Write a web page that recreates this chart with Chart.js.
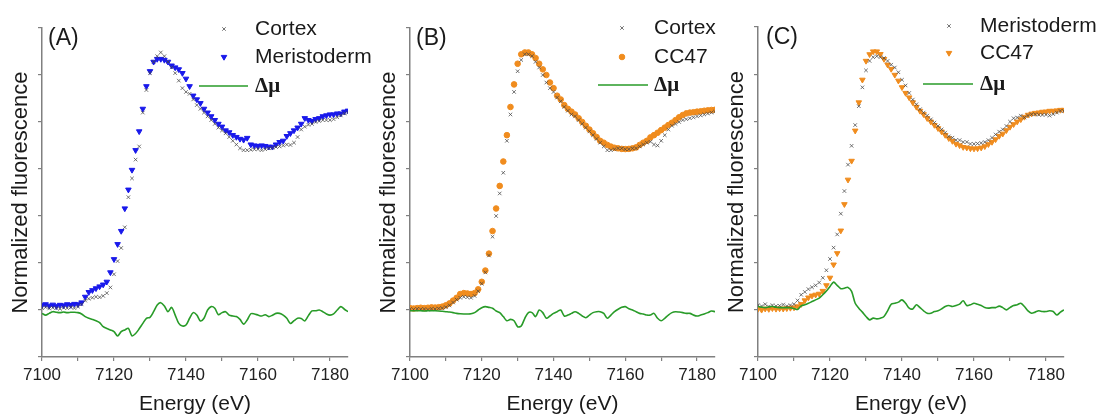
<!DOCTYPE html>
<html>
<head>
<meta charset="utf-8">
<script src="https://cdn.jsdelivr.net/npm/chart.js@4.4.1/dist/chart.umd.min.js"></script>
<style>
  body { margin: 0; background: #fff; }
  #wrap { position: relative; width: 1105px; height: 419px; }
  #wrap canvas { position: absolute; left: 0; top: 0; }
</style>
</head>
<body>
<div id="wrap">
  <canvas id="chartA" width="1105" height="419"></canvas>
  <canvas id="chartB" width="1105" height="419"></canvas>
  <canvas id="chartC" width="1105" height="419"></canvas>
</div>
<script>
// Energias (eV), 1 eV por punto
const energy = [
  7100, 7101, 7102, 7103, 7104, 7105, 7106, 7107, 7108, 7109,
  7110, 7111, 7112, 7113, 7114, 7115, 7116, 7117, 7118, 7119,
  7120, 7121, 7122, 7123, 7124, 7125, 7126, 7127, 7128, 7129,
  7130, 7131, 7132, 7133, 7134, 7135, 7136, 7137, 7138, 7139,
  7140, 7141, 7142, 7143, 7144, 7145, 7146, 7147, 7148, 7149,
  7150, 7151, 7152, 7153, 7154, 7155, 7156, 7157, 7158, 7159,
  7160, 7161, 7162, 7163, 7164, 7165, 7166, 7167, 7168, 7169,
  7170, 7171, 7172, 7173, 7174, 7175, 7176, 7177, 7178, 7179,
  7180, 7181, 7182, 7183, 7184, 7185
];

// marcas del eje x (las de 20 en 20 llevan etiqueta)
const xTickMarks = [7100, 7110, 7120, 7130, 7140, 7150, 7160, 7170, 7180];
const xTicks = [7100, 7120, 7140, 7160, 7180];

// Panel (A)
const cortexA = [
  0.010, 0.015, 0.008, 0.012, 0.010, 0.006, 0.012, 0.010, 0.015, 0.010,
  0.018, 0.030, 0.050, 0.060, 0.065, 0.070, 0.068, 0.075, 0.090, 0.120,
  0.190, 0.260, 0.330, 0.440, 0.600, 0.700, 0.800, 0.870, 1.050, 1.170,
  1.260, 1.320, 1.350, 1.370, 1.350, 1.320, 1.290, 1.260, 1.220, 1.180,
  1.160, 1.150, 1.120, 1.090, 1.070, 1.050, 1.030, 1.010, 0.990, 0.970,
  0.955, 0.940, 0.920, 0.900, 0.880, 0.860, 0.850, 0.850, 0.852, 0.855,
  0.855, 0.850, 0.855, 0.860, 0.862, 0.867, 0.870, 0.875, 0.880, 0.878,
  0.890, 0.920, 0.960, 0.975, 0.985, 0.990, 1.000, 1.005, 1.010, 1.010,
  1.010, 1.015, 1.025, 1.035, 1.045, 1.050
];
const meristodermA = [
  0.025, 0.030, 0.022, 0.028, 0.020, 0.027, 0.024, 0.030, 0.026, 0.032,
  0.030, 0.040, 0.070, 0.095, 0.105, 0.115, 0.125, 0.135, 0.150, 0.200,
  0.270, 0.350, 0.420, 0.540, 0.640, 0.745, 0.850, 0.950, 1.070, 1.190,
  1.270, 1.320, 1.335, 1.335, 1.330, 1.320, 1.300, 1.290, 1.280, 1.260,
  1.230, 1.190, 1.140, 1.120, 1.100, 1.070, 1.050, 1.030, 1.010, 0.990,
  0.975, 0.955, 0.945, 0.930, 0.920, 0.910, 0.905, 0.915, 0.880, 0.875,
  0.872, 0.875, 0.872, 0.868, 0.868, 0.880, 0.893, 0.900, 0.925, 0.940,
  0.955, 0.970, 0.990, 1.020, 1.010, 1.005, 1.015, 1.020, 1.030, 1.035,
  1.040, 1.040, 1.045, 1.045, 1.055, 1.060
];
const deltaA = [
  -0.018, -0.027, -0.018, -0.009, -0.012, -0.014, -0.011, -0.014, -0.012, -0.012,
  -0.014, -0.021, -0.035, -0.044, -0.050, -0.057, -0.067, -0.089, -0.098, -0.106,
  -0.115, -0.138, -0.115, -0.106, -0.098, -0.138, -0.125, -0.100, -0.071, -0.044,
  -0.039, -0.009, 0.027, 0.039, 0.021, -0.009, 0.014, -0.027, -0.071, -0.085,
  -0.080, -0.044, -0.014, -0.027, -0.058, -0.044, 0.000, 0.018, 0.009, -0.025,
  -0.014, -0.009, -0.027, -0.032, -0.035, -0.050, -0.075, -0.053, -0.020, -0.021,
  -0.027, -0.032, -0.025, -0.035, -0.028, -0.018, -0.018, -0.027, -0.044, -0.072,
  -0.057, -0.044, -0.045, -0.058, -0.030, -0.005, -0.004, 0.000, -0.009, -0.021,
  -0.027, -0.021, 0.000, 0.018, 0.004, -0.009
];

// Panel (B)
const cortexB = [
  0.005, 0.003, 0.006, 0.004, 0.005, 0.002, 0.006, 0.005, 0.008, 0.010,
  0.015, 0.025, 0.040, 0.055, 0.065, 0.070, 0.068, 0.065, 0.075, 0.100,
  0.140, 0.200, 0.290, 0.390, 0.500, 0.620, 0.730, 0.900, 1.040, 1.160,
  1.270, 1.330, 1.360, 1.360, 1.350, 1.320, 1.290, 1.250, 1.210, 1.180,
  1.160, 1.130, 1.110, 1.080, 1.060, 1.040, 1.030, 1.010, 0.990, 0.970,
  0.950, 0.930, 0.910, 0.890, 0.870, 0.850, 0.850, 0.855, 0.860, 0.860,
  0.855, 0.855, 0.860, 0.860, 0.870, 0.880, 0.890, 0.895, 0.880, 0.875,
  0.900, 0.930, 0.960, 0.980, 0.990, 1.000, 1.010, 1.015, 1.020, 1.025,
  1.030, 1.035, 1.040, 1.045, 1.050, 1.055
];
const cc47B = [
  0.010, 0.008, 0.010, 0.012, 0.010, 0.012, 0.014, 0.013, 0.015, 0.018,
  0.025, 0.035, 0.050, 0.065, 0.085, 0.090, 0.088, 0.085, 0.090, 0.110,
  0.150, 0.210, 0.300, 0.420, 0.540, 0.660, 0.790, 0.930, 1.080, 1.200,
  1.310, 1.360, 1.370, 1.370, 1.360, 1.340, 1.310, 1.280, 1.250, 1.210,
  1.180, 1.140, 1.120, 1.090, 1.070, 1.055, 1.040, 1.020, 1.000, 0.980,
  0.960, 0.940, 0.920, 0.900, 0.890, 0.878, 0.869, 0.863, 0.860, 0.857,
  0.856, 0.857, 0.860, 0.865, 0.878, 0.890, 0.900, 0.918, 0.930, 0.943,
  0.957, 0.970, 0.984, 0.996, 1.010, 1.025, 1.037, 1.046, 1.050, 1.052,
  1.055, 1.057, 1.060, 1.062, 1.064, 1.065
];
const deltaB = [
  -0.004, -0.004, -0.004, -0.004, -0.005, -0.004, -0.004, -0.004, -0.005, -0.007,
  -0.009, -0.011, -0.014, -0.018, -0.020, -0.021, -0.021, -0.020, -0.014, 0.000,
  0.012, 0.018, 0.014, 0.009, -0.005, -0.014, -0.035, -0.057, -0.050, -0.057,
  -0.089, -0.085, -0.044, -0.014, -0.014, -0.035, 0.000, -0.014, -0.044, -0.032,
  -0.018, -0.009, 0.000, -0.032, -0.027, -0.018, -0.009, -0.018, -0.032, -0.041,
  -0.027, -0.014, -0.009, -0.009, -0.018, -0.044, -0.027, -0.009, 0.004, 0.014,
  0.018, 0.007, 0.000, -0.009, -0.018, -0.021, -0.027, -0.027, -0.018, -0.044,
  -0.057, -0.044, -0.027, -0.014, -0.009, -0.011, -0.014, -0.018, -0.018, -0.027,
  -0.032, -0.027, -0.021, -0.014, -0.005, -0.009
];

// Panel (C)
const meristodermC = [
  0.025, 0.020, 0.030, 0.018, 0.025, 0.020, 0.022, 0.028, 0.020, 0.025,
  0.030, 0.050, 0.080, 0.095, 0.110, 0.120, 0.130, 0.145, 0.170, 0.210,
  0.270, 0.330, 0.400, 0.510, 0.630, 0.770, 0.870, 0.980, 1.080, 1.180,
  1.270, 1.320, 1.340, 1.345, 1.340, 1.335, 1.320, 1.300, 1.285, 1.260,
  1.220, 1.190, 1.150, 1.115, 1.090, 1.064, 1.046, 1.030, 1.010, 0.993,
  0.975, 0.957, 0.940, 0.920, 0.913, 0.900, 0.900, 0.890, 0.890, 0.880,
  0.880, 0.882, 0.885, 0.890, 0.900, 0.913, 0.930, 0.945, 0.957, 0.975,
  0.998, 1.016, 1.020, 1.030, 1.020, 1.030, 1.037, 1.037, 1.035, 1.034,
  1.035, 1.030, 1.038, 1.046, 1.055, 1.055
];
const cc47C = [
  0.005, 0.000, 0.006, 0.004, 0.008, 0.005, 0.007, 0.006, 0.008, 0.010,
  0.012, 0.018, 0.030, 0.050, 0.065, 0.075, 0.080, 0.085, 0.100, 0.130,
  0.170, 0.240, 0.300, 0.420, 0.560, 0.690, 0.790, 0.950, 1.100, 1.220,
  1.320, 1.355, 1.370, 1.370, 1.356, 1.330, 1.300, 1.277, 1.246, 1.215,
  1.180, 1.150, 1.126, 1.100, 1.076, 1.055, 1.037, 1.016, 0.998, 0.980,
  0.963, 0.945, 0.927, 0.910, 0.895, 0.880, 0.872, 0.863, 0.860, 0.856,
  0.855, 0.856, 0.860, 0.867, 0.878, 0.890, 0.904, 0.922, 0.934, 0.952,
  0.970, 0.984, 0.998, 1.010, 1.023, 1.034, 1.040, 1.044, 1.046, 1.050,
  1.051, 1.055, 1.055, 1.057, 1.060, 1.060
];
const deltaC = [
  0.018, 0.014, 0.012, 0.016, 0.018, 0.014, 0.012, 0.012, 0.012, 0.011,
  0.007, 0.002, 0.021, 0.027, 0.035, 0.044, 0.053, 0.062, 0.080, 0.100,
  0.124, 0.147, 0.130, 0.112, 0.115, 0.119, 0.098, 0.035, 0.009, -0.012,
  -0.035, -0.053, -0.044, -0.048, -0.044, -0.035, -0.005, 0.030, 0.035, 0.041,
  0.053, 0.035, 0.009, 0.005, 0.027, 0.012, -0.005, -0.018, -0.018, -0.009,
  -0.005, 0.005, 0.018, 0.023, 0.018, 0.023, 0.030, 0.048, 0.023, 0.027,
  0.035, 0.030, 0.023, 0.012, 0.009, 0.012, 0.012, 0.020, 0.012, 0.000,
  0.012, 0.023, 0.027, 0.035, 0.018, -0.005, -0.018, -0.012, -0.005, -0.009,
  -0.009, -0.005, -0.009, -0.027, -0.012, 0.000
];

const SANS = '"Liberation Sans", Arial, sans-serif';
const GRAY = 'rgba(70,70,70,0.75)';
const BLUE = 'rgb(25,25,235)';
const ORANGE = 'rgb(240,140,30)';
const GREEN = 'rgb(40,155,40)';
const AXIS = '#808080';

function toPoints(ys) {
  return energy.map((x, i) => ({ x: x, y: ys[i] }));
}

function grayDataset(label, ys) {
  return {
    label: label, data: toPoints(ys), order: 1,
    pointStyle: 'crossRot', pointRadius: 2.5, borderWidth: 1,
    borderColor: GRAY, backgroundColor: GRAY
  };
}

function colorDataset(label, ys, color, style, rotation, radius) {
  return {
    label: label, data: toPoints(ys), order: 2,
    pointStyle: style, pointRotation: rotation, pointRadius: radius, borderWidth: 1,
    borderColor: color, backgroundColor: color
  };
}

function deltaDataset(ys) {
  return {
    label: 'Δμ', data: toPoints(ys), order: 0,
    showLine: true, pointRadius: 0, borderColor: GREEN, borderWidth: 1.6,
    tension: 0.3
  };
}

// Leyenda y etiqueta del panel dibujadas a mano
function panelDecor(cfg) {
  return {
    id: 'panelDecor',
    afterDraw(chart) {
      const ctx = chart.ctx;
      ctx.save();
      ctx.textBaseline = 'middle';
      ctx.textAlign = 'left';
      ctx.fillStyle = '#1a1a1a';
      ctx.font = '23px ' + SANS;
      ctx.fillText(cfg.tag, cfg.tagX, cfg.tagY);

      chart.data.datasets.forEach((ds, i) => {
        const y = cfg.rows[i];
        if (ds.showLine) {
          ctx.strokeStyle = ds.borderColor;
          ctx.lineWidth = ds.borderWidth;
          ctx.beginPath();
          ctx.moveTo(cfg.lineX[0], y);
          ctx.lineTo(cfg.lineX[1], y);
          ctx.stroke();
          ctx.fillStyle = '#1a1a1a';
          ctx.font = 'bold 21px "Liberation Serif", "DejaVu Serif", serif';
          ctx.fillText(ds.label, cfg.textX, y + 1);
        } else {
          ctx.fillStyle = ds.backgroundColor;
          ctx.strokeStyle = ds.borderColor;
          ctx.lineWidth = ds.borderWidth;
          Chart.helpers.drawPoint(ctx, {
            pointStyle: ds.pointStyle, radius: ds.pointRadius,
            rotation: ds.pointRotation || 0, borderWidth: ds.borderWidth
          }, cfg.markX, y);
          ctx.fillStyle = '#1a1a1a';
          ctx.font = '21px ' + SANS;
          ctx.fillText(ds.label, cfg.textX, y);
        }
      });
      ctx.restore();
    }
  };
}

function makePanel(canvasId, datasets, pad, decor) {
  const ctx = document.getElementById(canvasId).getContext('2d');
  return new Chart(ctx, {
    type: 'scatter',
    data: { datasets: datasets },
    options: {
      responsive: false,
      animation: false,
      devicePixelRatio: 1,
      layout: { padding: pad },
      plugins: { legend: { display: false }, tooltip: { enabled: false } },
      scales: {
        x: {
          type: 'linear', min: 7100, max: 7185,
          afterFit: s => { s.height = 62; },
          afterBuildTicks: s => { s.ticks = xTickMarks.map(v => ({ value: v })); },
          border: { color: AXIS, width: 1.5 },
          grid: { drawOnChartArea: false, tickLength: 4, color: AXIS, lineWidth: 1.2 },
          ticks: {
            autoSkip: false, maxRotation: 0, padding: 4,
            color: '#222', font: { family: SANS, size: 17 },
            callback: v => xTicks.includes(v) ? String(v) : ''
          },
          title: {
            display: true, text: 'Energy (eV)', color: '#1a1a1a',
            font: { family: SANS, size: 21, lineHeight: 1.2 },
            padding: { top: 0, bottom: 2 }
          }
        },
        y: {
          type: 'linear', min: -0.25, max: 1.5,
          afterFit: s => { s.width = 42; },
          border: { color: AXIS, width: 1.5 },
          grid: { drawOnChartArea: false, tickLength: 4, color: AXIS, lineWidth: 1.2 },
          ticks: { stepSize: 0.25, display: false },
          title: {
            display: true, text: 'Normalized fluorescence', color: '#1a1a1a',
            font: { family: SANS, size: 22, lineHeight: 1.2 },
            padding: { top: 8, bottom: 0 }
          }
        }
      }
    },
    plugins: [panelDecor(decor)]
  });
}

makePanel('chartA', [
  grayDataset('Cortex', cortexA),
  colorDataset('Meristoderm', meristodermA, BLUE, 'triangle', 180, 3.2),
  deltaDataset(deltaA)
], { left: 0, right: 757, top: 28, bottom: 0 }, {
  tag: '(A)', tagX: 48, tagY: 39,
  rows: [29, 57, 86], markX: 224, textX: 255, lineX: [199, 248]
});

makePanel('chartB', [
  grayDataset('Cortex', cortexB),
  colorDataset('CC47', cc47B, ORANGE, 'circle', 0, 2.8),
  deltaDataset(deltaB)
], { left: 368, right: 390, top: 28, bottom: 0 }, {
  tag: '(B)', tagX: 416, tagY: 39,
  rows: [28, 57, 85], markX: 622, textX: 654, lineX: [598, 648]
});

makePanel('chartC', [
  grayDataset('Meristoderm', meristodermC),
  colorDataset('CC47', cc47C, ORANGE, 'triangle', 180, 3.2),
  deltaDataset(deltaC)
], { left: 716, right: 41, top: 27, bottom: 0 }, {
  tag: '(C)', tagX: 766, tagY: 38,
  rows: [26, 53, 84], markX: 949, textX: 980, lineX: [923, 973]
});
</script>
</body>
</html>
